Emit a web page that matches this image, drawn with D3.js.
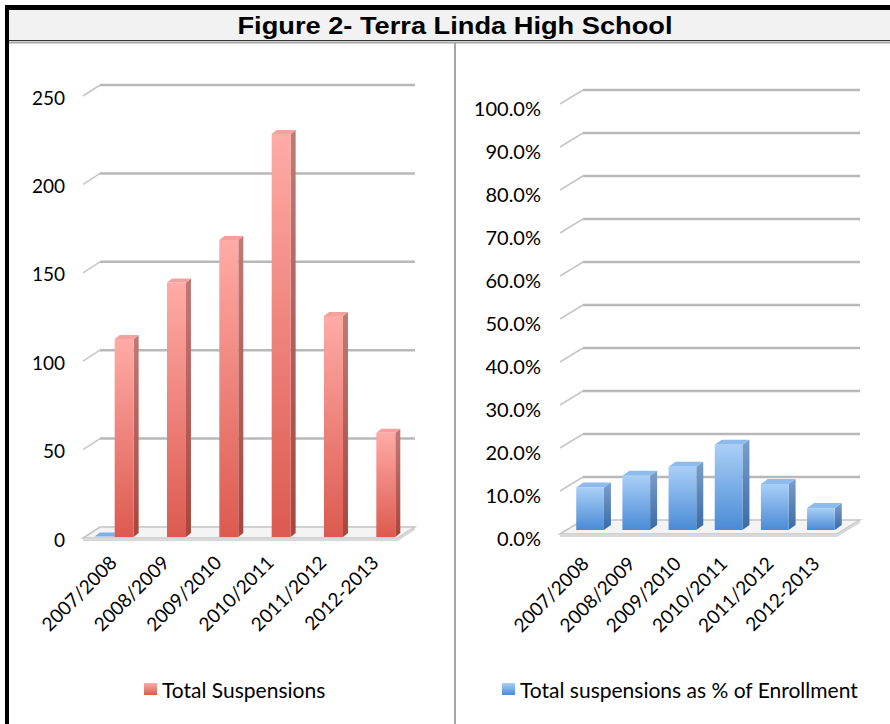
<!DOCTYPE html>
<html>
<head>
<meta charset="utf-8">
<script src="https://cdn.jsdelivr.net/npm/d3@7"></script>
<style>
  body { margin: 0; background: #fff; }
  svg text { font-family: Lato, "Open Sans", sans-serif; fill: #000; }
</style>
</head>
<body>
<div id="chart"></div>
<script>
// data
var categories = ["2007/2008", "2008/2009", "2009/2010", "2010/2011", "2011/2012", "2012-2013"];
var totalSuspensions = [112, 144, 168, 228, 125, 59];
var pctOfEnrollment = [0.099, 0.126, 0.147, 0.198, 0.107, 0.051];
// the percent series also sits (nearly flat) on the left chart, only first one visible
var pctOnCountAxis = [0.3, 0, 0, 0, 0, 0];
var countTicks = [0, 50, 100, 150, 200, 250];
var pctTicks = [0, 0.1, 0.2, 0.3, 0.4, 0.5, 0.6, 0.7, 0.8, 0.9, 1.0];

var W = 890, H = 724;

var svg = d3.select("#chart").append("svg")
    .attr("width", W)
    .attr("height", H);

var defs = svg.append("defs");
function vgrad(id, top, bottom) {
  var g = defs.append("linearGradient").attr("id", id)
      .attr("x1", 0).attr("y1", 0).attr("x2", 0).attr("y2", 1);
  g.append("stop").attr("offset", "0%").attr("stop-color", top);
  g.append("stop").attr("offset", "100%").attr("stop-color", bottom);
}
vgrad("redFront", "#ffaba6", "#dc5a4f");
vgrad("redSide", "#bf7a76", "#a8453e");
vgrad("blueFront", "#a9cff7", "#4a8bd6");
vgrad("blueSide", "#7a9fcc", "#3a6aa6");
vgrad("swRed", "#ffaba6", "#dc5a4f");
vgrad("swBlue", "#a9cff7", "#4a8bd6");

// frame
svg.append("rect").attr("x", 9).attr("y", 10).attr("width", W - 9).attr("height", 30).attr("fill", "#f2f2f2");
svg.append("rect").attr("x", 5).attr("y", 5).attr("width", W - 5).attr("height", 5).attr("fill", "#000");
svg.append("rect").attr("x", 5).attr("y", 5).attr("width", 4).attr("height", H - 5).attr("fill", "#000");
svg.append("line").attr("x1", 9).attr("x2", W).attr("y1", 40.5).attr("y2", 40.5).attr("stroke", "#333").attr("stroke-width", 1);
svg.append("line").attr("x1", 9).attr("x2", W).attr("y1", 42.5).attr("y2", 42.5).attr("stroke", "#a6a6a6").attr("stroke-width", 2);
svg.append("line").attr("x1", 455).attr("x2", 455).attr("y1", 43).attr("y2", H).attr("stroke", "#a6a6a6").attr("stroke-width", 2);

svg.append("text")
    .attr("x", 455).attr("y", 26)
    .attr("text-anchor", "middle")
    .attr("dominant-baseline", "central")
    .attr("textLength", 435)
    .attr("lengthAdjust", "spacingAndGlyphs")
    .style("font-family", "'Liberation Sans', Arial, sans-serif")
    .style("font-weight", "bold")
    .style("font-size", "23px")
    .text("Figure 2- Terra Linda High School");

// one pseudo-3D column chart
function drawChart(cfg) {
  var g = svg.append("g");

  var y = d3.scaleLinear().domain(cfg.domain).range(cfg.yRange);
  var x = d3.scaleBand().domain(categories).range(cfg.xRange)
      .paddingInner(cfg.padIn).paddingOuter(cfg.padOut);

  // floor
  var y0 = y(0);
  var floor = [[cfg.xRange[0], y0], [cfg.xRange[0] + cfg.dx, y0 - cfg.dy],
               [cfg.gridEnd, y0 - cfg.dy], [cfg.gridEnd - cfg.dx, y0]];
  g.append("path")
      .attr("d", "M" + floor.map(function(p){ return p.join(","); }).join("L") + "Z")
      .attr("fill", "#f4f4f4").attr("stroke", "#c4c4c4").attr("stroke-width", 1.5);
  g.append("path")
      .attr("d", "M" + floor[0] + "L" + floor[3] + "L" + floor[2] + "L" + floor[2][0] + "," + (floor[2][1] + 3) + "L" + floor[3][0] + "," + (floor[3][1] + 3) + "L" + floor[0][0] + "," + (floor[0][1] + 3) + "Z")
      .attr("fill", "#d8d8d8");

  // gridlines
  cfg.ticks.forEach(function(t) {
    if (t === 0) return;
    var yt = y(t);
    g.append("line")
        .attr("x1", cfg.xRange[0]).attr("y1", yt)
        .attr("x2", cfg.xRange[0] + cfg.dx).attr("y2", yt - cfg.dy)
        .attr("stroke", "#c6c6c6").attr("stroke-width", 1.5);
    g.append("line")
        .attr("x1", cfg.xRange[0] + cfg.dx).attr("y1", yt - cfg.dy)
        .attr("x2", cfg.gridEnd).attr("y2", yt - cfg.dy)
        .attr("stroke", "#b8b8b8").attr("stroke-width", 2.5);
  });

  // tick labels
  g.selectAll(".tick-label")
      .data(cfg.ticks)
      .enter().append("text")
        .attr("class", "tick-label")
        .attr("x", cfg.labelX)
        .attr("y", function(d) { return y(d) + cfg.labelDy; })
        .attr("text-anchor", "end")
        .attr("dominant-baseline", "central")
        .style("font-size", cfg.tickSize)
        .text(cfg.format);

  // bars
  cfg.series.forEach(function(s) {
    var inner = d3.scaleBand().domain(cfg.seriesKeys).range([0, x.bandwidth()])
        .paddingInner(cfg.innerPad).paddingOuter(cfg.innerOuter);
    var w = inner.bandwidth();
    s.values.forEach(function(v, i) {
      if (!v) return;
      var fx = x(categories[i]) + inner(s.key) + cfg.shiftX;
      var by = y(0) - cfg.shiftY;
      var ty = by - (y(0) - y(v));
      var bx = cfg.barDx, bdy = cfg.barDy;
      g.append("path")
          .attr("d", "M" + (fx + w) + "," + ty + "L" + (fx + w + bx) + "," + (ty - bdy) +
                     "L" + (fx + w + bx) + "," + (by - bdy) + "L" + (fx + w) + "," + by + "Z")
          .attr("fill", "url(#" + s.side + ")");
      g.append("path")
          .attr("d", "M" + fx + "," + ty + "L" + (fx + bx) + "," + (ty - bdy) +
                     "L" + (fx + w + bx) + "," + (ty - bdy) + "L" + (fx + w) + "," + ty + "Z")
          .attr("fill", s.cap);
      if (by - ty > 0.5) {
        g.append("rect")
            .attr("x", fx).attr("y", ty)
            .attr("width", w).attr("height", by - ty)
            .attr("fill", "url(#" + s.front + ")");
      }
    });
  });

  // category labels
  g.selectAll(".cat")
      .data(categories)
      .enter().append("text")
        .attr("class", "cat")
        .attr("text-anchor", "end")
        .style("font-size", "19px")
        .attr("transform", function(d) {
          var cx = x(d) + x.bandwidth() / 2 + cfg.catDx;
          return "translate(" + cx + "," + cfg.catY + ")rotate(-45)";
        })
        .text(function(d) { return d; });

  // legend
  var lg = g.append("g").attr("transform", "translate(" + cfg.legendX + "," + cfg.legendY + ")");
  lg.append("rect").attr("x", 0).attr("y", -6).attr("width", 13).attr("height", 12)
      .attr("fill", "url(#" + cfg.legendFill + ")");
  lg.append("text").attr("x", 18).attr("y", 0)
      .attr("dominant-baseline", "central")
      .style("font-size", "21px")
      .text(cfg.legendText);
}

drawChart({
  domain: [0, 250], yRange: [538, 96], xRange: [83, 397], gridEnd: 415,
  dx: 17, dy: 11, padIn: 0, padOut: 0,
  seriesKeys: ["pct", "count"], innerPad: 0.05, innerOuter: 0.335,
  shiftX: 5, shiftY: 1, barDx: 5, barDy: 4,
  series: [
    {key: "pct", values: pctOnCountAxis, front: "blueFront", side: "blueSide", cap: "#7fb0e8"},
    {key: "count", values: totalSuspensions, front: "redFront", side: "redSide", cap: "#f3a19c"}
  ],
  ticks: countTicks, format: d3.format("d"),
  labelX: 65, labelDy: 1, tickSize: "19px",
  catDx: 9, catY: 564,
  legendX: 144, legendY: 689, legendFill: "swRed", legendText: "Total Suspensions"
});

drawChart({
  domain: [0, 1], yRange: [534, 104], xRange: [560, 837], gridEnd: 860,
  dx: 23, dy: 14, padIn: 0.4, padOut: 0.2,
  seriesKeys: ["pct"], innerPad: 0, innerOuter: 0,
  shiftX: 7, shiftY: 4, barDx: 7, barDy: 5,
  series: [
    {key: "pct", values: pctOfEnrollment, front: "blueFront", side: "blueSide", cap: "#8dbbec"}
  ],
  ticks: pctTicks, format: d3.format(".1%"),
  labelX: 541, labelDy: 4, tickSize: "20px",
  catDx: 7, catY: 565,
  legendX: 502, legendY: 689, legendFill: "swBlue", legendText: "Total suspensions as % of Enrollment"
});
</script>
</body>
</html>
